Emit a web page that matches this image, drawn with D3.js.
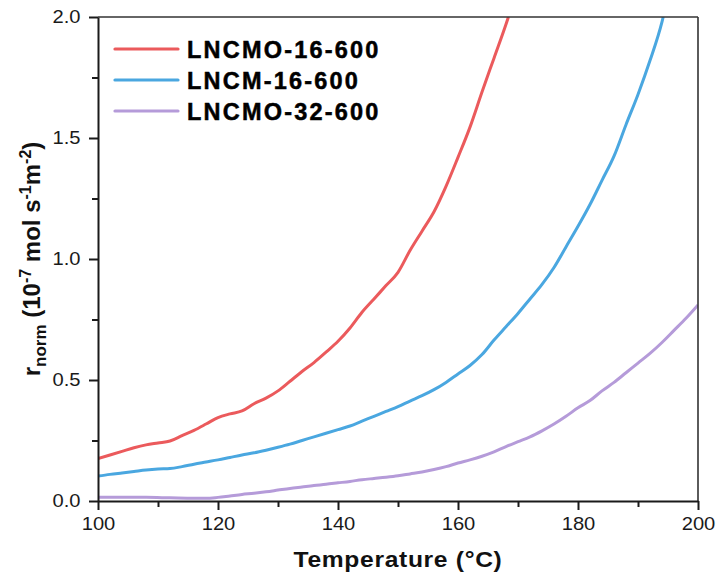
<!DOCTYPE html>
<html>
<head>
<meta charset="utf-8">
<script src="https://cdn.jsdelivr.net/npm/d3@7"></script>
<style>
  html, body { margin: 0; padding: 0; background: #fff; }
  svg { display: block; font-family: "Liberation Sans", Arial, sans-serif; }
  .wide { transform-box: fill-box; transform-origin: center; transform: scaleX(1.12); }
</style>
</head>
<body>
<svg id="chart" width="721" height="577"></svg>
<script>
// Normalised reaction rate vs temperature for three catalysts
const seriesNames = ["LNCMO-16-600", "LNCM-16-600", "LNCMO-32-600"];
const seriesColors = ["#eb5a5c", "#4aa7e0", "#b59bd9"];

const tempA = [100,102,104,106,108,110,112,114,116,118,120,122,124,126,128,130,132,134,136,138,140,142,144,146,148,150,152,154,156,158,160,162,164,166,168,168.4];
const rateA = [0.175,0.19,0.205,0.22,0.232,0.24,0.248,0.27,0.292,0.318,0.345,0.36,0.372,0.402,0.425,0.455,0.495,0.535,0.572,0.615,0.66,0.715,0.78,0.835,0.89,0.945,1.035,1.115,1.195,1.3,1.42,1.545,1.69,1.83,1.97,2.0];

const tempB = [100,102,104,106,108,110,112,114,116,118,120,122,124,126,128,130,132,134,136,138,140,142,144,146,148,150,152,154,156,158,160,162,164,166,168,170,172,174,176,178,180,182,184,186,188,190,192,194,194.2];
const rateB = [0.103,0.11,0.116,0.122,0.128,0.132,0.134,0.142,0.152,0.161,0.17,0.18,0.19,0.199,0.21,0.222,0.235,0.25,0.265,0.28,0.295,0.31,0.33,0.35,0.37,0.39,0.413,0.435,0.46,0.49,0.525,0.56,0.605,0.665,0.72,0.775,0.835,0.895,0.965,1.05,1.135,1.225,1.325,1.425,1.555,1.68,1.82,1.98,2.0];

const tempC = [100,104,108,112,116,118,120,122,124,126,128,130,132,134,136,138,140,142,144,146,148,150,152,154,156,158,160,162,164,166,168,170,172,174,176,178,180,182,184,186,188,190,192,194,196,198,200];
const rateC = [0.015,0.015,0.015,0.013,0.011,0.011,0.015,0.021,0.027,0.032,0.038,0.045,0.052,0.058,0.064,0.069,0.075,0.081,0.088,0.093,0.098,0.104,0.112,0.12,0.13,0.142,0.157,0.17,0.185,0.203,0.225,0.245,0.265,0.29,0.318,0.35,0.385,0.415,0.455,0.49,0.53,0.57,0.61,0.655,0.705,0.755,0.81];

const xMajorTicks = [100, 120, 140, 160, 180, 200];
const xMinorTicks = [110, 130, 150, 170, 190];
const yMajorTicks = [0.0, 0.5, 1.0, 1.5, 2.0];
const yMinorTicks = [0.25, 0.75, 1.25, 1.75];

const series = [
  { name: seriesNames[0], color: seriesColors[0], t: tempA, r: rateA },
  { name: seriesNames[1], color: seriesColors[1], t: tempB, r: rateB },
  { name: seriesNames[2], color: seriesColors[2], t: tempC, r: rateC }
];

const svg = d3.select("#chart");
const plot = { left: 98, right: 698, top: 17, bottom: 501 };

const x = d3.scaleLinear().domain([100, 200]).range([plot.left, plot.right]);
const y = d3.scaleLinear().domain([0, 2]).range([plot.bottom, plot.top]);

svg.append("defs").append("clipPath").attr("id", "plotClip")
  .append("rect")
  .attr("x", plot.left).attr("y", plot.top)
  .attr("width", plot.right - plot.left).attr("height", plot.bottom - plot.top);

// Curves
const line = d3.line().x(d => x(d[0])).y(d => y(d[1])).curve(d3.curveMonotoneX);
const curves = svg.append("g").attr("clip-path", "url(#plotClip)");
series.forEach(s => {
  curves.append("path")
    .datum(d3.zip(s.t, s.r))
    .attr("fill", "none")
    .attr("stroke", s.color)
    .attr("stroke-width", 3)
    .attr("stroke-linejoin", "round")
    .attr("d", line);
});

// Frame: top and right edges
svg.append("line").attr("x1", plot.left).attr("x2", plot.right).attr("y1", plot.top).attr("y2", plot.top)
  .attr("stroke", "#333").attr("stroke-width", 1.6);
svg.append("line").attr("x1", plot.right).attr("x2", plot.right).attr("y1", plot.top).attr("y2", plot.bottom)
  .attr("stroke", "#333").attr("stroke-width", 1.6);

// Axes
function styleAxis(g) {
  g.select(".domain").attr("stroke", "#1a1a1a").attr("stroke-width", 2);
  g.selectAll(".tick line").attr("stroke", "#1a1a1a").attr("stroke-width", 2);
  g.selectAll(".tick text").attr("fill", "#1a1a1a").attr("font-size", 18).attr("class", "wide");
}

const xMinor = svg.append("g").attr("transform", `translate(0,${plot.bottom})`)
  .call(d3.axisBottom(x).tickValues(xMinorTicks).tickSize(6).tickFormat(""));
xMinor.select(".domain").remove();
xMinor.selectAll(".tick line").attr("stroke", "#1a1a1a").attr("stroke-width", 2);

const yMinor = svg.append("g").attr("transform", `translate(${plot.left},0)`)
  .call(d3.axisLeft(y).tickValues(yMinorTicks).tickSize(6).tickFormat(""));
yMinor.select(".domain").remove();
yMinor.selectAll(".tick line").attr("stroke", "#1a1a1a").attr("stroke-width", 2);

svg.append("g").attr("transform", `translate(0,${plot.bottom})`)
  .call(d3.axisBottom(x).tickValues(xMajorTicks).tickSize(9).tickSizeOuter(0).tickPadding(7).tickFormat(d3.format("d")))
  .call(styleAxis);

svg.append("g").attr("transform", `translate(${plot.left},0)`)
  .call(d3.axisLeft(y).tickValues(yMajorTicks).tickSize(9).tickSizeOuter(0).tickPadding(10).tickFormat(d3.format(".1f")))
  .call(styleAxis);

// Axis titles
svg.append("text")
  .attr("class", "wide")
  .attr("x", (plot.left + plot.right) / 2).attr("y", 567)
  .attr("text-anchor", "middle")
  .attr("font-size", 22).attr("font-weight", "bold").attr("fill", "#111")
  .attr("letter-spacing", 0.6)
  .text("Temperature (°C)");

const yTitle = svg.append("text")
  .attr("transform", `translate(40,${(plot.top + plot.bottom) / 2}) rotate(-90)`)
  .attr("text-anchor", "middle")
  .attr("font-size", 24).attr("font-weight", "bold").attr("fill", "#111");
yTitle.append("tspan").text("r");
yTitle.append("tspan").attr("font-size", 17).attr("dy", 6).text("norm");
yTitle.append("tspan").attr("dy", -6).text(" (10");
yTitle.append("tspan").attr("font-size", 16).attr("dy", -9).text("-7");
yTitle.append("tspan").attr("dy", 9).text(" mol s");
yTitle.append("tspan").attr("font-size", 16).attr("dy", -9).text("-1");
yTitle.append("tspan").attr("dy", 9).text("m");
yTitle.append("tspan").attr("font-size", 16).attr("dy", -9).text("-2");
yTitle.append("tspan").attr("dy", 9).text(")");

// Legend
const legend = svg.append("g");
series.forEach((s, i) => {
  const yy = 49 + i * 31;
  legend.append("line")
    .attr("x1", 115).attr("x2", 178).attr("y1", yy).attr("y2", yy)
    .attr("stroke", s.color).attr("stroke-width", 3.2).attr("stroke-linecap", "round");
  legend.append("text")
    .attr("x", 187).attr("y", yy + 8.5)
    .attr("font-size", 23.5).attr("font-weight", "bold").attr("fill", "#000")
    .attr("stroke", "#000").attr("stroke-width", 0.5)
    .attr("letter-spacing", 2.2)
    .text(s.name);
});
</script>
</body>
</html>
